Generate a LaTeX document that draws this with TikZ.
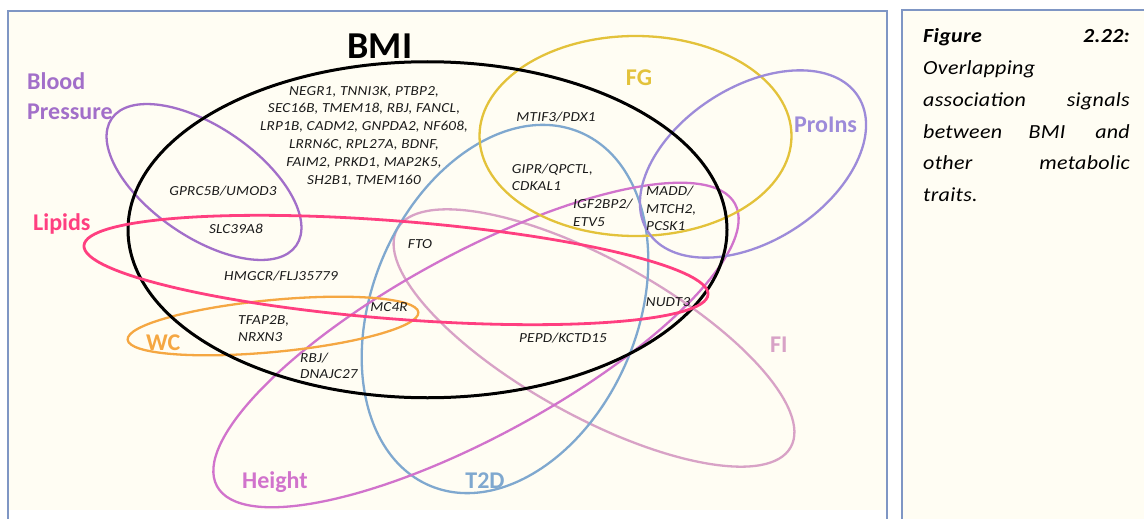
\documentclass[tikz,border=0pt]{standalone}
\usepackage{fontspec}
\setmainfont{Carlito}
\newfontfamily\genefont[FakeStretch=1.1,LetterSpace=1.5]{Carlito}
\definecolor{bpcol}{HTML}{A26FC9}
\definecolor{lipcol}{HTML}{FF3F80}
\definecolor{wccol}{HTML}{F5A742}
\definecolor{fgcol}{HTML}{E3C23A}
\definecolor{procol}{HTML}{9D8BD9}
\definecolor{tdcol}{HTML}{7FA8CF}
\definecolor{htcol}{HTML}{D173CC}
\definecolor{ficol}{HTML}{D8A2C6}
\definecolor{cream}{HTML}{FFFDF3}
\definecolor{framecol}{HTML}{7F96C4}
\definecolor{genetext}{HTML}{1A1A1A}
\begin{document}
\begin{tikzpicture}[x=1pt,y=-1pt,
  ell/.style={line width=2.3pt},
  gene/.style={font=\genefont\itshape\fontsize{13.8}{17.8}\selectfont, text=genetext, inner sep=0pt, align=center},
  genel/.style={gene, align=left, anchor=west},
  trait/.style={font=\fontsize{24}{24}\selectfont\bfseries, inner sep=0pt, anchor=base west},
  capt/.style={font=\genefont\itshape\fontsize{20}{22}\selectfont, inner sep=0pt, text=black}]
\useasboundingbox (0,0) rectangle (1144,519);
\fill[white] (0,0) rectangle (1144,519);
\fill[cream] (8,11) rectangle (887,510);
\fill[cream] (902,10) rectangle (1144,519);
\draw[framecol, line width=1.8pt] (8,519) -- (8,11) -- (887,11) -- (887,519);
\draw[framecol, line width=1.8pt] (902,519) -- (902,10) -- (1146,10);

% ellipses
\draw[ell, ficol, rotate around={-29:(594,338)}] (594,338) ellipse [x radius=225, y radius=78];
\draw[ell, tdcol, rotate around={66.9:(505,309)}] (505,309) ellipse [x radius=192, y radius=132.5];
\draw[ell, htcol, rotate around={28.6:(476,345)}] (476,345) ellipse [x radius=295, y radius=91];
\draw[ell, fgcol] (635.5,136) ellipse [x radius=156, y radius=100];
\draw[ell, procol, rotate around={32.8:(753,164)}] (753,164) ellipse [x radius=125, y radius=77];
\draw[ell, bpcol, rotate around={-34.5:(204,182)}] (204,182) ellipse [x radius=112, y radius=55];
\draw[ell, wccol, rotate around={5.4:(273,326)}] (273,326) ellipse [x radius=146, y radius=26];
\draw[black, line width=3pt] (427.5,229.75) ellipse [x radius=299.5, y radius=168];
\draw[ell, lipcol, line width=2.8pt, rotate around={-4.5:(396,270)}] (396,270) ellipse [x radius=313, y radius=49];

% trait labels
\node[font=\fontsize{38}{38}\selectfont\bfseries, inner sep=0pt, anchor=base] (bmi) at (380,59) {BMI};
\node[trait, bpcol] (bp1) at (27,90) {Blood};
\node[trait, bpcol] (bp2) at (27,119) {Pressure};
\node[trait, lipcol] (lip) at (33,230) {Lipids};
\node[trait, wccol] (wc) at (146,350) {WC};
\node[trait, fgcol, anchor=base] (fg) at (639,85) {FG};
\node[trait, procol] (pro) at (794,132) {ProIns};
\node[trait, ficol] (fi) at (770,352) {FI};
\node[trait, htcol] (ht) at (242,488) {Height};
\node[trait, tdcol, anchor=base] (t2d) at (485,488) {T2D};

% gene labels
\node[gene] (g1) at (364,136) {NEGR1, TNNI3K, PTBP2,\\SEC16B, TMEM18, RBJ, FANCL,\\LRP1B, CADM2, GNPDA2, NF608,\\LRRN6C, RPL27A, BDNF,\\FAIM2, PRKD1, MAP2K5,\\SH2B1, TMEM160};
\node[gene] (g2) at (223,191.5) {GPRC5B/UMOD3};
\node[gene] (g3) at (236,229) {SLC39A8};
\node[gene] (g4) at (281,276) {HMGCR/FLJ35779};
\node[genel, font=\genefont\itshape\fontsize{13.8}{17}\selectfont] (g5) at (238,328.5) {TFAP2B,\\NRXN3};
\node[gene] (g6) at (389,307) {MC4R};
\node[genel, font=\genefont\itshape\fontsize{13.8}{16.5}\selectfont] (g7) at (300,366) {RBJ/\\DNAJC27};
\node[gene] (g8) at (420,244) {FTO};
\node[gene] (g9) at (556,117.5) {MTIF3/PDX1};
\node[genel, font=\genefont\itshape\fontsize{13.8}{17}\selectfont] (g10) at (511.7,177.5) {GIPR/QPCTL,\\CDKAL1};
\node[genel, font=\genefont\itshape\fontsize{13.8}{18}\selectfont] (g11) at (573,213) {IGF2BP2/\\ETV5};
\node[genel, font=\genefont\itshape\fontsize{13.8}{17.5}\selectfont] (g12) at (646,208.5) {MADD/\\MTCH2,\\PCSK1};
\node[gene] (g13) at (668,302) {NUDT3};
\node[gene] (g14) at (563,338) {PEPD/KCTD15};

% caption
\node[capt, anchor=base west, font=\genefont\bfseries\itshape\fontsize{20}{22}\selectfont] (c1a) at (923,43) {Figure};
\node[capt, anchor=base east, font=\genefont\bfseries\itshape\fontsize{20}{22}\selectfont] (c1b) at (1130,43) {2.22:};
\node[capt, anchor=base west] (c2) at (923,74.7) {Overlapping};
\node[capt, anchor=base west] (c3a) at (923,106.4) {association};
\node[capt, anchor=base east] (c3b) at (1130,106.4) {signals};
\node[capt, anchor=base west] (c4a) at (923,138.1) {between};
\node[capt, anchor=base] (c4b) at (1047,138.1) {BMI};
\node[capt, anchor=base east] (c4c) at (1130,138.1) {and};
\node[capt, anchor=base west] (c5a) at (923,169.8) {other};
\node[capt, anchor=base east] (c5b) at (1130,169.8) {metabolic};
\node[capt, anchor=base west] (c6) at (923,201.5) {traits.};
\end{tikzpicture}
\end{document}
